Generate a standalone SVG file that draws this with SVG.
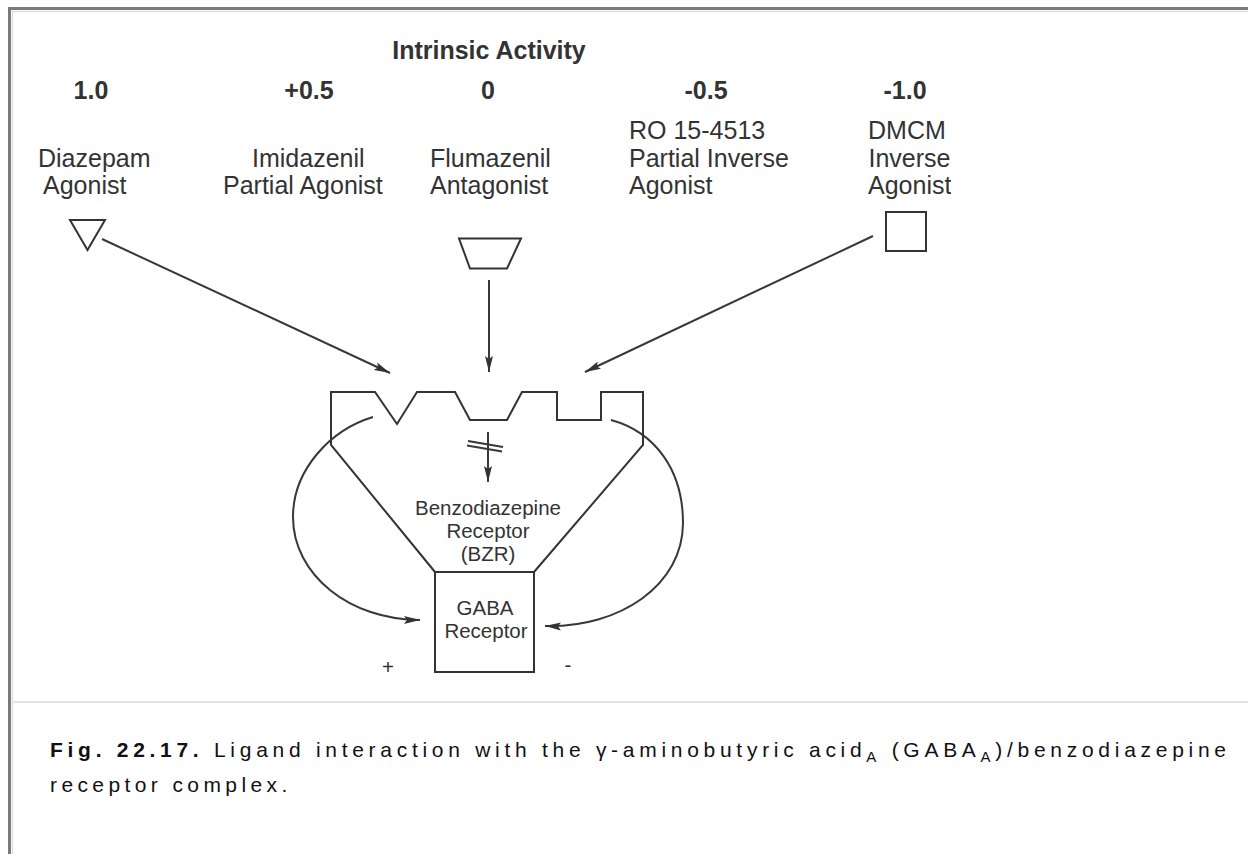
<svg xmlns="http://www.w3.org/2000/svg" width="1248" height="854" viewBox="0 0 1248 854">
  <style>
    .lbl { font-family: "Liberation Sans", Arial, sans-serif; font-size: 25px; fill: #333; }
    .num { font-family: "Liberation Sans", Arial, sans-serif; font-size: 25px; font-weight: bold; fill: #333; }
    .small { font-family: "Liberation Sans", Arial, sans-serif; font-size: 20.5px; fill: #333; text-anchor: middle; }
    .shape { fill: none; stroke: #333; stroke-width: 2; stroke-linejoin: miter; }
    .conn { fill: none; stroke: #383838; stroke-width: 2; }
    .cap { font-family: "Liberation Sans", Arial, sans-serif; font-size: 21px; fill: #111; }
  </style>
  <defs>
    <marker id="arrow" viewBox="0 0 16 10" refX="16" refY="5" markerWidth="16" markerHeight="10" markerUnits="userSpaceOnUse" orient="auto">
      <path d="M0,1 L16,5 L0,9 L3,5 Z" fill="#333"/>
    </marker>
    <clipPath id="figclip">
      <rect x="12" y="12" width="939" height="688"/>
    </clipPath>
  </defs>

  <rect x="0" y="0" width="1248" height="854" fill="#fff"/>

  <!-- page frame -->
  <g id="frame">
    <path d="M9.5,854 V8.5 H1248" fill="none" stroke="#7a7a7a" stroke-width="3"/>
    <path d="M12.5,854 V11.5 H1248" fill="none" stroke="#dedede" stroke-width="1.5"/>
    <line x1="12" y1="702" x2="1248" y2="702" stroke="#e2e2e2" stroke-width="2"/>
  </g>

  <g id="figure" clip-path="url(#figclip)">
    <g id="scale-title">
      <text class="num" x="489" y="59" text-anchor="middle">Intrinsic Activity</text>
    </g>

    <g id="diazepam">
      <text class="num" x="91" y="99" text-anchor="middle">1.0</text>
      <text class="lbl" x="38" y="166.5">Diazepam</text>
      <text class="lbl" x="43" y="194">Agonist</text>
      <polygon class="shape" points="70,220 105,220 87.5,250"/>
    </g>

    <g id="imidazenil">
      <text class="num" x="309" y="99" text-anchor="middle">+0.5</text>
      <text class="lbl" x="252" y="166.5">Imidazenil</text>
      <text class="lbl" x="223" y="194">Partial Agonist</text>
    </g>

    <g id="flumazenil">
      <text class="num" x="488" y="99" text-anchor="middle">0</text>
      <text class="lbl" x="430" y="166.5">Flumazenil</text>
      <text class="lbl" x="430" y="194">Antagonist</text>
      <polygon class="shape" points="459,238.5 521,238.5 507,268.5 470,268.5"/>
    </g>

    <g id="ro15-4513">
      <text class="num" x="706" y="99" text-anchor="middle">-0.5</text>
      <text class="lbl" x="629" y="139">RO 15-4513</text>
      <text class="lbl" x="629" y="166.5">Partial Inverse</text>
      <text class="lbl" x="629" y="194">Agonist</text>
    </g>

    <g id="dmcm">
      <text class="num" x="905" y="99" text-anchor="middle">-1.0</text>
      <text class="lbl" x="868" y="139">DMCM</text>
      <text class="lbl" x="868.5" y="166.5">Inverse</text>
      <text class="lbl" x="868" y="194">Agonist</text>
      <rect class="shape" x="886" y="212" width="40" height="39"/>
    </g>

    <g id="bzr">
      <path class="shape" d="M435,572 L331,445 V392 H375 L397,424 L417,392 H455 L470,420 H507 L522,392 H557 V420 H601 V392 H643 V445 L534,572"/>
      <text class="small" x="488" y="515">Benzodiazepine</text>
      <text class="small" x="488" y="538">Receptor</text>
      <text class="small" x="488" y="561">(BZR)</text>
    </g>

    <g id="gaba-receptor">
      <rect class="shape" x="435" y="572" width="99" height="100"/>
      <text class="small" x="485" y="615">GABA</text>
      <text class="small" x="486" y="638">Receptor</text>
    </g>

    <g id="signs">
      <text class="small" x="388" y="674">+</text>
      <text class="small" x="568" y="672">-</text>
    </g>

    <g id="connectors">
      <line class="conn" x1="102" y1="239" x2="390" y2="373" marker-end="url(#arrow)"/>
      <line class="conn" x1="489" y1="280" x2="489" y2="372" marker-end="url(#arrow)"/>
      <line class="conn" x1="873" y1="236" x2="585" y2="372" marker-end="url(#arrow)"/>
      <!-- blocked signal from BZR -->
      <line class="conn" x1="488" y1="432" x2="488" y2="482" marker-end="url(#arrow)"/>
      <line class="conn" x1="468" y1="441" x2="503" y2="447" stroke-width="1.8"/>
      <line class="conn" x1="467" y1="445.5" x2="502" y2="451.5" stroke-width="1.8"/>
      <!-- positive modulation loop -->
      <path class="conn" d="M373,417 C330,430 293,470 293,517 C293,575 350,620 420,620" marker-end="url(#arrow)"/>
      <!-- negative modulation loop -->
      <path class="conn" d="M611,420 C655,432 683,470 683,523 C683,585 620,628 545,626" marker-end="url(#arrow)"/>
    </g>
  </g>

  <g id="caption">
    <text class="cap" x="50" y="757" textLength="1176" lengthAdjust="spacing"><tspan font-weight="bold">Fig. 22.17.</tspan> Ligand interaction with the γ-aminobutyric acid<tspan font-size="15" dy="5">A</tspan><tspan dy="-5"> (GABA</tspan><tspan font-size="15" dy="5">A</tspan><tspan dy="-5">)/benzodiazepine</tspan></text>
    <text class="cap" x="50" y="792" letter-spacing="4.4">receptor complex.</text>
  </g>
</svg>
